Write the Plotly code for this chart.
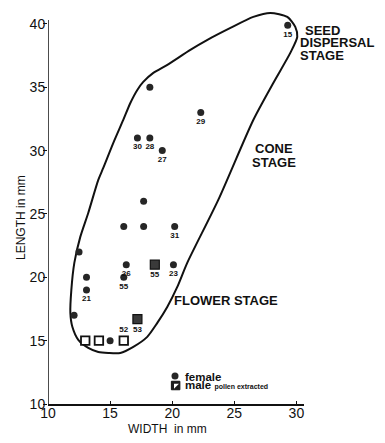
import plotly.graph_objects as go

# ---------------- data ----------------
female_w = [12.1, 12.5, 13.1, 13.1, 15.0, 16.1, 16.3, 16.1, 17.7, 17.7, 20.2, 20.1, 18.2, 17.2, 18.2, 19.2, 22.3, 29.3]
female_l = [17.0, 22.0, 20.0, 19.0, 15.0, 20.0, 21.0, 24.0, 24.0, 26.0, 24.0, 21.0, 35.0, 31.0, 31.0, 30.0, 33.0, 39.9]
female_lab = ["", "", "", "21", "", "55", "26", "", "", "", "31", "23", "", "30", "28", "27", "29", "15"]

male_filled_w = [18.6, 17.2]
male_filled_l = [21.0, 16.7]
male_filled_lab = ["55", "53"]

male_open_w = [13.0, 14.1, 16.1]
male_open_l = [15.0, 15.0, 15.0]
male_open_lab = ["", "", "52"]

x_ticks = [10, 15, 20, 25, 30]
y_ticks = [10, 15, 20, 25, 30, 35, 40]

# hand-drawn stage boundary
boundary_w = [14.45, 14.05, 13.24, 12.60, 12.12, 11.88, 11.80, 11.96, 12.44, 13.24, 14.05, 14.86,
              15.82, 16.87, 17.99, 18.80, 19.60, 20.41, 21.21, 23.71, 26.53, 28.14, 29.51, 30.07,
              29.91, 29.27, 27.90, 26.53, 24.69, 22.84, 21.46, 19.61, 18.48, 17.67, 17.19, 16.63,
              16.06, 15.26, 14.45]
boundary_l = [28.63, 27.69, 25.08, 23.19, 21.14, 19.01, 17.19, 16.09, 15.06, 14.43, 14.11, 14.03,
              14.03, 14.51, 15.30, 16.40, 17.66, 19.24, 21.14, 26.11, 32.42, 35.34, 37.71, 38.97,
              39.76, 40.55, 40.87, 40.55, 39.68, 38.74, 37.95, 36.77, 36.13, 35.42, 34.79, 33.76,
              32.42, 30.61, 28.63]

# ---------------- layout geometry ----------------
W, H = 385, 443
ML, MR, MT, MB = 48, 81, 7, 39
PW, PH = W - ML - MR, H - MT - MB
XS, YS = 12.42, 12.67  # px per mm
x_range = [10, 10 + PW / XS]
y_range = [10, 10 + PH / YS]


def px(x):
    return (x - ML) / PW


def py(y):
    return (H - MB - y) / PH


FONT = "Liberation Sans, Arial, Helvetica, sans-serif"
INK = "#111111"

fig = go.Figure()

fig.add_trace(go.Scatter(
    x=boundary_w, y=boundary_l, mode="lines",
    line=dict(color=INK, width=2, shape="spline", smoothing=0.7),
    hoverinfo="skip", showlegend=False))

lab_font = dict(family=FONT, size=8, color=INK, weight="bold")

fig.add_trace(go.Scatter(
    x=female_w, y=female_l, mode="markers+text", text=female_lab,
    textposition="bottom center", textfont=lab_font,
    marker=dict(symbol="circle", size=7, color="#262626"),
    showlegend=False, cliponaxis=False))

fig.add_trace(go.Scatter(
    x=male_filled_w, y=male_filled_l, mode="markers+text", text=male_filled_lab,
    textposition="bottom center", textfont=lab_font,
    marker=dict(symbol="square", size=9, color="#3a3a3a", line=dict(color=INK, width=1.2)),
    showlegend=False, cliponaxis=False))

fig.add_trace(go.Scatter(
    x=male_open_w, y=male_open_l, mode="markers+text", text=male_open_lab,
    textposition="top center", textfont=lab_font,
    marker=dict(symbol="square", size=8.5, color="white", line=dict(color=INK, width=1.8)),
    showlegend=False, cliponaxis=False))

# legend icons (key)
key_x = 10 + (175 - ML) / XS
key_y1 = 10 + (H - MB - 376) / YS
key_y2 = 10 + (H - MB - 385.5) / YS
fig.add_trace(go.Scatter(x=[key_x], y=[key_y1], mode="markers",
                         marker=dict(symbol="circle", size=7, color="#262626"),
                         showlegend=False, hoverinfo="skip", cliponaxis=False))
fig.add_trace(go.Scatter(x=[key_x + 0.05], y=[key_y2], mode="markers",
                         marker=dict(symbol="square", size=8.5, color="#1a1a1a", line=dict(color=INK, width=1)),
                         showlegend=False, hoverinfo="skip", cliponaxis=False))
fig.add_trace(go.Scatter(x=[key_x + 0.05], y=[key_y2], mode="markers",
                         marker=dict(symbol="triangle-nw", size=5.5, color="white"),
                         showlegend=False, hoverinfo="skip", cliponaxis=False))

annotations = []


def ann(text, x, y, size, bold=False, xanchor="left", angle=0):
    t = f"<b>{text}</b>" if bold else text
    annotations.append(dict(text=t, x=px(x), y=py(y), xref="paper", yref="paper",
                            xanchor=xanchor, yanchor="middle", showarrow=False,
                            textangle=angle,
                            font=dict(family=FONT, size=size, color=INK)))


ann("SEED", 303, 30, 13, True)
ann("DISPERSAL", 298, 43, 13, True)
ann("STAGE", 298, 55, 13, True)
ann("CONE", 274, 148, 13, True, "center")
ann("STAGE", 274, 162, 13, True, "center")
ann("FLOWER STAGE", 172, 300, 13, True)
ann("female", 183, 376.5, 11.5, True)
ann("<b>male</b> <span style='font-size:7px'><b>pollen extracted</b></span>", 183, 385, 11.5, False)
ann("WIDTH  in mm", 167, 429, 12, False, "center")
ann("LENGTH in mm", 21, 218, 12, False, "center", -90)

fig.update_layout(
    width=W, height=H,
    margin=dict(l=ML, r=MR, t=MT, b=MB),
    paper_bgcolor="white", plot_bgcolor="white",
    annotations=annotations,
    shapes=[dict(type="line", xref="x", yref="y", x0=10, x1=10, y0=10, y1=40.3,
                 line=dict(color=INK, width=1.5))],
    xaxis=dict(range=x_range, tickvals=x_ticks, showgrid=False, zeroline=False,
               showline=True, linecolor=INK, linewidth=1.5,
               ticks="inside", ticklen=3, tickcolor=INK, tickwidth=1,
               ticklabelstandoff=-5,
               tickfont=dict(family=FONT, size=14, color=INK)),
    yaxis=dict(range=y_range, tickvals=y_ticks, showgrid=False, zeroline=False,
               showline=False, ticks="outside", ticklen=4, tickcolor=INK, tickwidth=1,
               ticklabelstandoff=-5,
               tickfont=dict(family=FONT, size=14, color=INK)),
)

fig.write_html("out.html")
